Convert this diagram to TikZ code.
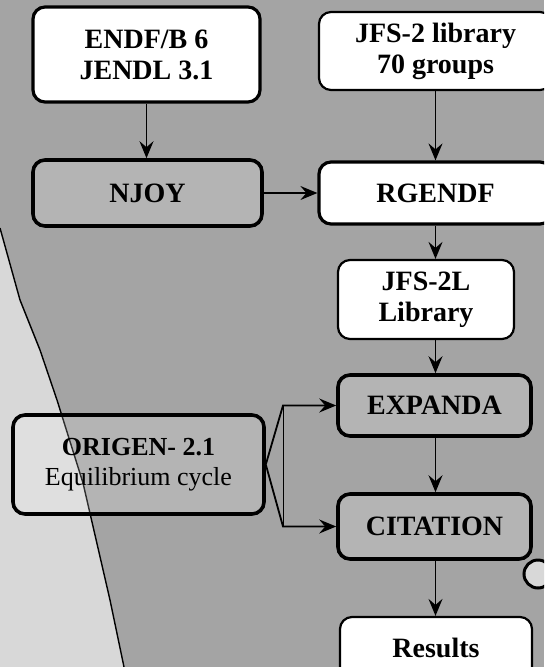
\documentclass[tikz,border=0pt]{standalone}
\usepackage{fontspec}
\setmainfont{Liberation Serif}
\usetikzlibrary{arrows.meta,calc}
\definecolor{bggray}{HTML}{A4A4A4}
\definecolor{lightbg}{HTML}{D8D8D8}
\begin{document}
\begin{tikzpicture}[x=1pt,y=-1pt,
  basebox/.style={draw=black,rounded corners=12pt,align=center,inner sep=0pt,
    font=\fontsize{28}{31}\selectfont\bfseries},
  whitebox/.style={basebox,fill=white,line width=3.2pt},
  thinbox/.style={basebox,fill=white,line width=2.2pt},
  graybox/.style={basebox,fill=white,fill opacity=0.18,text opacity=1,line width=3.6pt},
  arr/.style={draw=black,line width=1.8pt,-{Stealth[length=17pt,width=14pt,inset=6pt]}},
  lnk/.style={draw=black,line width=1.6pt}]
\clip (0,0) rectangle (544,667);
\useasboundingbox (0,0) rectangle (544,667);
% background
\fill[bggray] (0,0) rectangle (544,667);
\fill[lightbg] (0,228) -- (20,300) -- (40,350) -- (57,400) -- (83,483) -- (110,600) -- (124,667) -- (0,667) -- cycle;
\draw[black,line width=1.4pt] (0,228) -- (20,300) -- (40,350) -- (57,400) -- (83,483) -- (110,600) -- (124,667);
% partial circle at right edge
\draw[line width=3pt,fill=lightbg] (538,574) circle (14);
% nodes
\node[whitebox,minimum width=227pt,minimum height=95pt] (endf) at (146.5,54.5) {ENDF/B 6\\JENDL 3.1};
\node[thinbox,minimum width=233pt,minimum height=78pt] (jfs) at (435.5,51) {JFS-2 library\\70 groups};
\node[graybox,minimum width=229pt,minimum height=66pt] (njoy) at (147.5,193) {NJOY};
\node[whitebox,minimum width=233pt,minimum height=62pt] (rgendf) at (435.5,193) {RGENDF};
\node[thinbox,minimum width=176pt,minimum height=79pt] (jfsl) at (426,299.5) {JFS-2L\\Library};
\node[graybox,minimum width=193pt,minimum height=61pt] (expanda) at (434.5,405.5) {EXPANDA};
\node[graybox,minimum width=251pt,minimum height=99pt,font=\fontsize{26}{30}\selectfont] (origen) at (138.5,464.5) {\textbf{ORIGEN- 2.1}\\Equilibrium cycle};
\node[graybox,minimum width=193pt,minimum height=65pt] (citation) at (434.5,526.5) {CITATION};
\node[thinbox,minimum width=192pt,minimum height=62pt] (results) at (436,648) {Results};
% connectors
\coordinate (bu) at (283,405.5);
\coordinate (bl) at (283,526.5);
\draw[arr] (endf.south) -- (endf.south |- njoy.north);
\draw[arr] (jfs.south) -- (rgendf.north);
\draw[arr] (njoy.east) -- (rgendf.west);
\draw[arr] (rgendf.south) -- (rgendf.south |- jfsl.north);
\draw[arr] (rgendf.south |- jfsl.south) -- (rgendf.south |- expanda.north);
\draw[arr] (rgendf.south |- expanda.south) -- (rgendf.south |- citation.north);
\draw[arr] (rgendf.south |- citation.south) -- (rgendf.south |- results.north);
\draw[arr] (origen.east) -- (bu) -- (expanda.west);
\draw[arr] (origen.east) -- (bl) -- (citation.west);
\draw[black,line width=0.8pt] (bu) -- (bl);
\end{tikzpicture}
\end{document}
